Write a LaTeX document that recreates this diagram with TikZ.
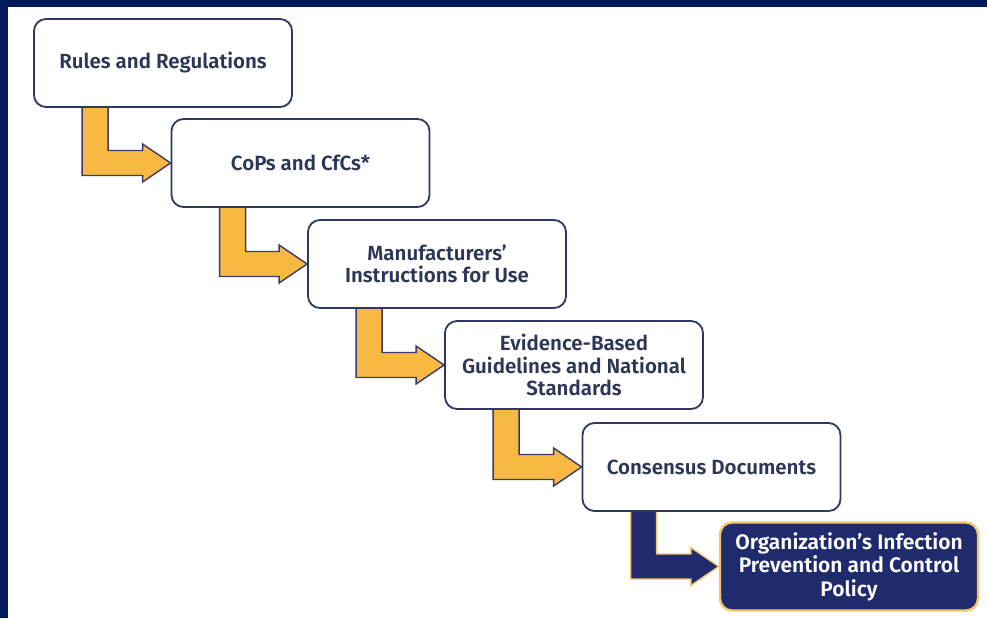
\documentclass[tikz,border=0pt]{standalone}
\usepackage{fontspec}
\setmainfont{Fira Sans}[BoldFont={Fira Sans SemiBold}]
\usetikzlibrary{calc,backgrounds}
\definecolor{navy}{HTML}{001A5C}
\definecolor{boxline}{HTML}{2F3763}
\definecolor{txt}{HTML}{2E3658}
\definecolor{gold}{HTML}{F8B942}
\definecolor{arrline}{HTML}{3A3A70}
\definecolor{lastfill}{HTML}{1F2B6C}
\definecolor{lastline}{HTML}{F2C56E}
\newcommand{\flowarrow}[4]{%
  \coordinate (#1p1) at ($(#1.south west)+(49,-1)$);
  \coordinate (#1p2) at ($(#1.south west)+(75,-1)$);
  \coordinate (#1c) at ($(#2.west)+(-28,0)$);
  \path[fill=#3,draw=#4,line width=1.4pt,line join=miter]
    (#1p1) -- (#1p2) -- (#1p2 |- {$(#1c)+(0,-12.5)$}) -- ($(#1c)+(0,-12.5)$) -- ($(#1c)+(0,-19)$)
    -- (#2.west) -- ($(#1c)+(0,19)$) -- ($(#1c)+(0,12.5)$) -- (#1p1 |- {$(#1c)+(0,12.5)$}) -- cycle;
}
\begin{document}
\begin{tikzpicture}[x=1pt,y=-1pt,
  stepbox/.style={draw=boxline,line width=1.8pt,fill=white,rounded corners=12pt,
    minimum width=258pt,minimum height=88pt,align=center,text=txt,
    font=\fontsize{20.5}{22.5}\selectfont\bfseries},
  lastbox/.style={stepbox,draw=lastline,fill=lastfill,text=white,line width=2.4pt,
    font=\fontsize{21}{23.5}\selectfont\bfseries}]
\useasboundingbox (0,0) rectangle (987,618);
\node[stepbox] (b1) at (163,63) {Rules and Regulations};
\node[stepbox] (b2) at (300.5,163) {CoPs and CfCs*};
\node[stepbox] (b3) at (437,264) {Manufacturers'\\Instructions for Use};
\node[stepbox] (b4) at (574,365) {Evidence-Based\\Guidelines and National\\Standards};
\node[stepbox] (b5) at (711.5,467) {Consensus Documents};
\node[lastbox] (b6) at (849,566.5) {Organization's Infection\\Prevention and Control\\Policy};
\begin{pgfonlayer}{background}
\fill[white] (0,0) rectangle (987,618);
\fill[navy] (0,0) rectangle (987,7);
\fill[navy] (0,0) rectangle (8,618);
\flowarrow{b1}{b2}{gold}{arrline}
\flowarrow{b2}{b3}{gold}{arrline}
\flowarrow{b3}{b4}{gold}{arrline}
\flowarrow{b4}{b5}{gold}{arrline}
\flowarrow{b5}{b6}{lastfill}{lastline}
\end{pgfonlayer}
\end{tikzpicture}
\end{document}
